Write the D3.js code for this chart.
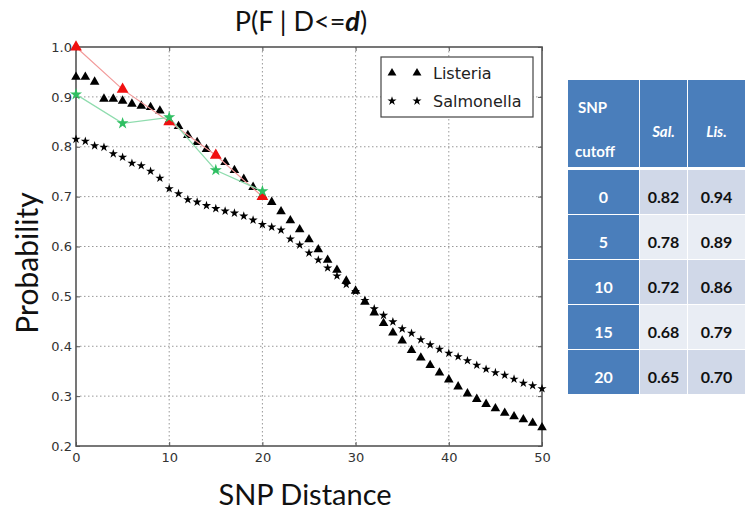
<!DOCTYPE html>
<html><head><meta charset="utf-8">
<script src="https://cdn.jsdelivr.net/npm/d3@7"></script>
<style>body{margin:0;background:#fff}svg{display:block}</style>
</head><body>
<svg id="c" width="745" height="512"></svg>
<script>
// ---- data ----
const distance = d3.range(0, 51);
const listeria = [0.940,0.940,0.930,0.896,0.896,0.892,0.886,0.882,0.879,0.872,
  0.852,0.841,0.823,0.809,0.795,0.783,0.769,0.753,0.735,0.719,
  0.702,0.689,0.670,0.652,0.634,0.614,0.594,0.573,0.553,0.531,
  0.511,0.489,0.467,0.446,0.427,0.411,0.392,0.377,0.362,0.347,
  0.333,0.319,0.305,0.294,0.284,0.275,0.266,0.259,0.253,0.246,0.237];
const salmonella = [0.815,0.811,0.802,0.799,0.786,0.779,0.767,0.762,0.751,0.737,
  0.716,0.706,0.694,0.689,0.682,0.676,0.671,0.667,0.661,0.653,
  0.644,0.639,0.633,0.615,0.603,0.587,0.573,0.557,0.541,0.524,
  0.510,0.492,0.475,0.462,0.449,0.435,0.426,0.413,0.403,0.394,
  0.386,0.379,0.371,0.362,0.354,0.347,0.342,0.334,0.326,0.321,0.315];
const cutoffX = [0, 5, 10, 15, 20];
const redY = [1.0, 0.915, 0.85, 0.783, 0.70];
const greenY = [0.905, 0.847, 0.859, 0.753, 0.711];
const xTicks = [0, 10, 20, 30, 40, 50];
const yTicks = [0.2, 0.3, 0.4, 0.5, 0.6, 0.7, 0.8, 0.9, 1.0];
const legendLabels = ["Listeria", "Salmonella"];
const tableHeader = ["Sal.", "Lis."];
const tableCutoffs = ["0", "5", "10", "15", "20"];
const tableSal = ["0.82", "0.78", "0.72", "0.68", "0.65"];
const tableLis = ["0.94", "0.89", "0.86", "0.79", "0.70"];

// ---- chart ----
const svg = d3.select("#c");
const L = 76, R = 542, T = 47, B = 446;
const x = d3.scaleLinear().domain([0, 50]).range([L, R]);
const y = d3.scaleLinear().domain([0.2, 1.0]).range([B, T]);

// grid
const g = svg.append("g");
g.selectAll(".gx").data(xTicks.slice(1, -1)).join("line")
  .attr("x1", d => x(d)).attr("x2", d => x(d)).attr("y1", T).attr("y2", B)
  .attr("stroke", "#999").attr("stroke-width", 1).attr("stroke-dasharray", "1.5,2.5");
g.selectAll(".gy").data(yTicks.slice(1, -1)).join("line")
  .attr("y1", d => y(d)).attr("y2", d => y(d)).attr("x1", L).attr("x2", R)
  .attr("stroke", "#999").attr("stroke-width", 1).attr("stroke-dasharray", "1.5,2.5");

// axes with inward ticks
const fmt = d3.format(".1f");
const ax = svg.append("g").attr("transform", `translate(0,${B})`)
  .call(d3.axisBottom(x).tickValues(xTicks).tickSize(-4).tickPadding(7));
const ay = svg.append("g").attr("transform", `translate(${L},0)`)
  .call(d3.axisLeft(y).tickValues(yTicks).tickFormat(fmt).tickSize(-4).tickPadding(4));
const at = svg.append("g").attr("transform", `translate(0,${T})`)
  .call(d3.axisTop(x).tickValues(xTicks).tickSize(-4).tickFormat(""));
const ar = svg.append("g").attr("transform", `translate(${R},0)`)
  .call(d3.axisRight(y).tickValues(yTicks).tickSize(-4).tickFormat(""));
[ax, ay, at, ar].forEach(a => {
  a.select(".domain").remove();
  a.selectAll("line").attr("stroke", "#555");
  a.selectAll("text").attr("font-family", "DejaVu Sans").attr("font-size", 13).attr("fill", "#333");
});
svg.append("rect").attr("x", L).attr("y", T).attr("width", R - L).attr("height", B - T)
  .attr("fill", "none").attr("stroke", "#555").attr("stroke-width", 1.6);

// series
const tri = d3.symbol().type(d3.symbolTriangle);
const star = d3.symbol().type(d3.symbolStar);
svg.append("g").selectAll("path").data(distance).join("path")
  .attr("transform", (d, i) => `translate(${x(d)},${y(listeria[i])})`)
  .attr("d", tri.size(40)()).attr("fill", "#000");
svg.append("g").selectAll("path").data(distance).join("path")
  .attr("transform", (d, i) => `translate(${x(d)},${y(salmonella[i])})`)
  .attr("d", star.size(26)()).attr("fill", "#000");

const line = d3.line().x(d => x(d[0])).y(d => y(d[1]));
const redPts = cutoffX.map((d, i) => [d, redY[i]]);
const greenPts = cutoffX.map((d, i) => [d, greenY[i]]);
svg.append("path").attr("d", line(redPts)).attr("fill", "none").attr("stroke", "#f29a9a").attr("stroke-width", 1.2);
svg.append("path").attr("d", line(greenPts)).attr("fill", "none").attr("stroke", "#8fdcae").attr("stroke-width", 1.2);
svg.append("g").selectAll("path").data(redPts).join("path")
  .attr("transform", d => `translate(${x(d[0])},${y(d[1])})`)
  .attr("d", tri.size(60)()).attr("fill", "#f01010");
svg.append("g").selectAll("path").data(greenPts).join("path")
  .attr("transform", d => `translate(${x(d[0])},${y(d[1])})`)
  .attr("d", star.size(45)()).attr("fill", "#2fbf62");

// legend
const lg = svg.append("g");
lg.append("rect").attr("x", 381).attr("y", 57).attr("width", 152).attr("height", 60)
  .attr("fill", "#fff").attr("stroke", "#444").attr("stroke-width", 1.2);
legendLabels.forEach((t, i) => {
  const yy = 73 + i * 28;
  [392, 417].forEach(xx => {
    lg.append("path").attr("transform", `translate(${xx},${yy})`)
      .attr("d", i === 0 ? tri.size(34)() : star.size(26)()).attr("fill", "#000");
  });
  lg.append("text").attr("x", 433).attr("y", yy + 6).text(t)
    .attr("font-family", "DejaVu Sans").attr("font-size", 16).attr("fill", "#222");
});

// titles
const title = svg.append("text").attr("x", 301).attr("y", 31).attr("text-anchor", "middle")
  .attr("font-family", "Lato").attr("font-size", 27).attr("fill", "#111");
title.append("tspan").text("P(F | D<=");
title.append("tspan").text("d").attr("font-weight", "bold").attr("font-style", "italic");
title.append("tspan").text(")");
svg.append("text").attr("x", 305).attr("y", 505).attr("text-anchor", "middle")
  .attr("font-family", "Lato").attr("font-size", 29).attr("fill", "#111").text("SNP Distance");
svg.append("text").attr("transform", "translate(38,263) rotate(-90)").attr("text-anchor", "middle")
  .attr("font-family", "Lato").attr("font-size", 30).attr("fill", "#111").text("Probability");

// table
const tb = svg.append("g");
const colX = [568, 640, 688], colW = [71, 47, 57];
const blue = "#4a7ebb";
tb.append("rect").attr("x", 568).attr("y", 80).attr("width", 177).attr("height", 87).attr("fill", blue);
tb.append("line").attr("x1", 639.5).attr("x2", 639.5).attr("y1", 80).attr("y2", 167).attr("stroke", "#fff").attr("stroke-width", 1);
tb.append("line").attr("x1", 687.5).attr("x2", 687.5).attr("y1", 80).attr("y2", 167).attr("stroke", "#fff").attr("stroke-width", 1);
tb.append("text").attr("x", 578).attr("y", 113).text("SNP")
  .attr("font-family", "Lato").attr("font-weight", "bold").attr("font-size", 15).attr("fill", "#fff");
tb.append("text").attr("x", 575).attr("y", 157).text("cutoff")
  .attr("font-family", "Lato").attr("font-weight", "bold").attr("font-size", 15).attr("fill", "#fff");
tableHeader.forEach((t, i) => {
  tb.append("text").attr("x", colX[i + 1] + colW[i + 1] / 2).attr("y", 137).attr("text-anchor", "middle")
    .text(t).attr("font-family", "Lato").attr("font-weight", "bold").attr("font-style", "italic")
    .attr("font-size", 15).attr("fill", "#fff");
});
const rowH = 45, rowTop = 170;
tableCutoffs.forEach((c, r) => {
  const yy = rowTop + r * rowH;
  const shade = r % 2 === 0 ? "#d0d8e8" : "#e9edf4";
  tb.append("rect").attr("x", 568).attr("y", yy).attr("width", 71).attr("height", rowH - 1).attr("fill", blue);
  tb.append("rect").attr("x", 640).attr("y", yy).attr("width", 47).attr("height", rowH - 1).attr("fill", shade);
  tb.append("rect").attr("x", 688).attr("y", yy).attr("width", 57).attr("height", rowH - 1).attr("fill", shade);
  const vals = [c, tableSal[r], tableLis[r]];
  vals.forEach((v, k) => {
    tb.append("text").attr("x", colX[k] + colW[k] / 2).attr("y", yy + 33)
      .attr("text-anchor", "middle").text(v)
      .attr("font-family", "Lato").attr("font-weight", "bold").attr("font-size", 16)
      .attr("fill", k === 0 ? "#fff" : "#111");
  });
});
</script>
</body></html>
